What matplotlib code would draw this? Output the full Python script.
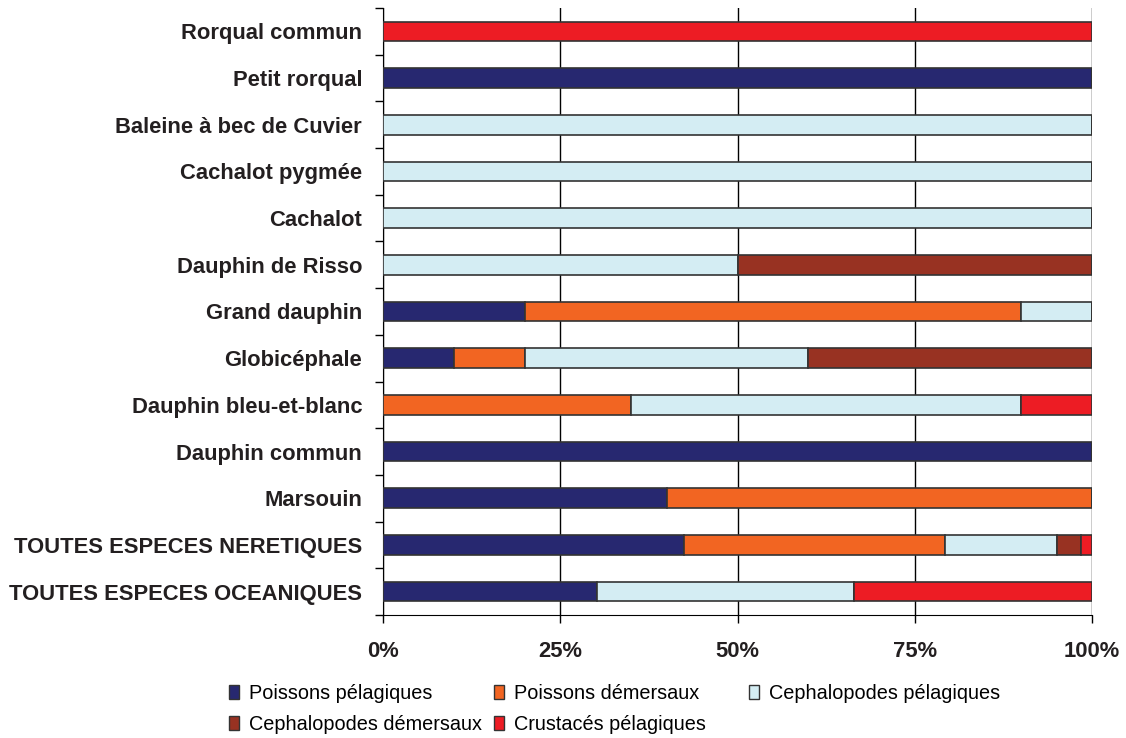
import matplotlib.pyplot as plt
from matplotlib.patches import Patch

plt.rcParams['font.family'] = ['Liberation Sans', 'DejaVu Sans']

especes = ['Rorqual commun', 'Petit rorqual', 'Baleine à bec de Cuvier',
           'Cachalot pygmée', 'Cachalot', 'Dauphin de Risso', 'Grand dauphin',
           'Globicéphale', 'Dauphin bleu-et-blanc', 'Dauphin commun', 'Marsouin',
           'TOUTES ESPECES NERETIQUES', 'TOUTES ESPECES OCEANIQUES']

categories = ['Poissons pélagiques', 'Poissons démersaux', 'Cephalopodes pélagiques',
              'Cephalopodes démersaux', 'Crustacés pélagiques']

poissons_pel = [0, 100, 0, 0, 0, 0, 20, 10, 0, 100, 40, 42.5, 30.2]
poissons_dem = [0, 0, 0, 0, 0, 0, 70, 10, 35, 0, 60, 36.7, 0]
cephalo_pel = [0, 0, 100, 100, 100, 50, 10, 40, 55, 0, 0, 15.8, 36.2]
cephalo_dem = [0, 0, 0, 0, 0, 50, 0, 40, 0, 0, 0, 3.4, 0]
crustaces_pel = [100, 0, 0, 0, 0, 0, 0, 0, 10, 0, 0, 1.6, 33.6]

series = [poissons_pel, poissons_dem, cephalo_pel, cephalo_dem, crustaces_pel]
couleurs = ['#272870', '#f26522', '#d4edf3', '#983222', '#ed1c24']

fig = plt.figure(figsize=(11.26, 7.38), dpi=100)
ax = fig.add_axes([383 / 1126, 1 - 615 / 738, 709 / 1126, 607 / 738])

y = range(len(especes))
gauche = [0] * len(especes)
for vals, coul in zip(series, couleurs):
    ax.barh(y, vals, left=gauche, height=0.42, color=coul,
            edgecolor='#333333', linewidth=1.2, zorder=3)
    gauche = [g + v for g, v in zip(gauche, vals)]

ax.set_ylim(len(especes) - 0.5, -0.5)
ax.set_xlim(0, 100)

ax.set_yticks(list(y))
ax.set_yticklabels(especes, fontsize=15.8, fontweight='bold', color='#231f20')
ax.set_yticks([i - 0.5 for i in range(len(especes) + 1)], minor=True)
ax.tick_params(axis='y', which='major', length=0, pad=15)
ax.tick_params(axis='y', which='minor', length=6, width=1, direction='out')

ax.set_xticks([0, 25, 50, 75, 100])
ax.set_xticklabels(['0%', '25%', '50%', '75%', '100%'], fontsize=15.8,
                   fontweight='bold', color='#231f20')
ax.tick_params(axis='x', length=6, width=1, pad=13)

ax.grid(axis='x', color='black', linewidth=1, zorder=0)
ax.spines['top'].set_visible(False)
ax.spines['right'].set_visible(False)

# legend built column by column so the gaps follow the original layout
poignees = [Patch(facecolor=c, edgecolor='#333333', linewidth=1) for c in couleurs]
colonnes = [([0, 3], 229), ([1, 4], 494), ([2], 749)]
for idx, x0 in colonnes:
    fig.legend([poignees[i] for i in idx], [categories[i] for i in idx],
               loc='upper left', bbox_to_anchor=(x0 / 1126, 1 - 684 / 738),
               frameon=False, fontsize=14.3, handlelength=0.5, handleheight=0.7,
               handletextpad=0.5, labelspacing=0.6, borderpad=0, borderaxespad=0)

fig.savefig('out.png', dpi=100)
